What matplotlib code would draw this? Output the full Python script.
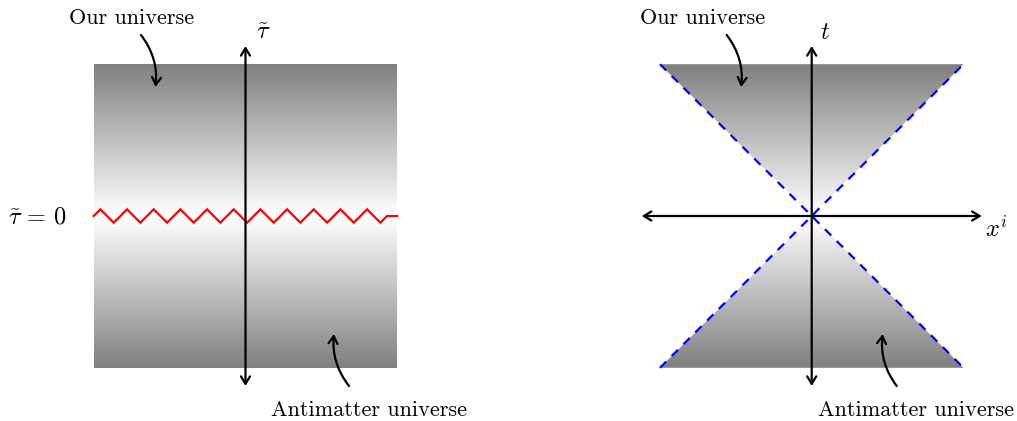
import numpy as np
import matplotlib
matplotlib.use("Agg")
import matplotlib.pyplot as plt
from matplotlib.patches import Polygon
from matplotlib.colors import LinearSegmentedColormap

plt.rcParams['mathtext.fontset'] = 'cm'

# everything in cm, origin at the centre of the left diagram
half = 2.0           # half size of shaded regions
axis_len = 2.24      # half length of the axes
right_x0 = 7.46      # centre of the right diagram

rect_corners = [(-half, -half), (half, -half), (half, half), (-half, half)]
cone_corners = [(-half, half), (half, half), (0, 0), (half, -half), (-half, -half), (0, 0)]
light_cone_1 = [(-half, half), (half, -half)]
light_cone_2 = [(-half, -half), (half, half)]

# text labels: (x, y, text)
left_labels = [(-1.495, 2.61, 'Our universe'),
               (1.627, -2.556, 'Antimatter universe'),
               (0.23, 2.42, r'$\tilde{\tau}$'),
               (-2.75, -0.01, r'$\tilde{\tau}\,=\,0$')]
right_labels = [(-1.436, 2.61, 'Our universe'),
                (1.37, -2.556, 'Antimatter universe'),
                (0.17, 2.42, r'$t$'),
                (2.43, -0.18, r'$x^i$')]

# curved pointer arrows: (tail, head)
left_pointers = [((-1.377, 2.385), (-1.186, 1.70)),
                 ((1.364, -2.240), (1.166, -1.555))]
right_pointers = [((-1.12, 2.385), (-0.93, 1.70)),
                  ((1.12, -2.24), (0.935, -1.555))]

# zigzag decoration (tikz default: 10pt segment, 2.5pt amplitude)
zz_period = 0.3514
zz_amp = 0.0879
zz_count = 11

px_per_cm = 75.9
fig = plt.figure(figsize=(10.17, 4.21), dpi=100)
ax = fig.add_axes([0, 0, 1, 1])
ax.set_xlim(-245.5 / px_per_cm, (1017 - 245.5) / px_per_cm)
ax.set_ylim(-(421 - 216) / px_per_cm, 216 / px_per_cm)
ax.axis('off')

shade = LinearSegmentedColormap.from_list('shade', ['#808080', '#ffffff'])
yy = np.linspace(-half, half, 400)
grad = (1 - np.abs(yy) / half).reshape(-1, 1)

LW = 1.6
HEAD = 'head_length=0.45,head_width=0.27'


def shaded(corners, x0):
    pts = [(x + x0, y) for x, y in corners]
    poly = Polygon(pts, closed=True, facecolor='none', edgecolor='none')
    ax.add_patch(poly)
    im = ax.imshow(grad, cmap=shade, vmin=0, vmax=1, origin='lower',
                   extent=[x0 - half, x0 + half, -half, half],
                   interpolation='bilinear', aspect='auto', zorder=1)
    im.set_clip_path(poly)


def axis_arrow(p0, p1):
    ax.annotate('', xy=p1, xytext=p0,
                arrowprops=dict(arrowstyle='<->,' + HEAD,
                                lw=LW, color='black', shrinkA=0, shrinkB=0,
                                mutation_scale=12), zorder=4)


def pointer(tail, head, x0):
    ax.annotate('', xy=(head[0] + x0, head[1]), xytext=(tail[0] + x0, tail[1]),
                arrowprops=dict(arrowstyle='->,' + HEAD,
                                connectionstyle='arc3,rad=-0.2',
                                lw=LW, color='black', shrinkA=0, shrinkB=0,
                                mutation_scale=12), zorder=5)


def labels(items, x0):
    for x, y, s in items:
        if s.startswith('$'):
            ax.text(x + x0, y, s, ha='center', va='center', fontsize=17.5, zorder=6)
        else:
            ax.text(x + x0, y, s, ha='center', va='center', fontsize=16,
                    family='cmr10', zorder=6)


# left diagram
shaded(rect_corners, 0)
zx = [-half]
zy = [0]
for k in range(zz_count):
    zx += [-half + (k + 0.25) * zz_period, -half + (k + 0.75) * zz_period]
    zy += [zz_amp, -zz_amp]
zx += [-half + zz_count * zz_period, half]
zy += [0, 0]
ax.plot(zx, zy, color='red', lw=LW, zorder=3, solid_joinstyle='miter')
axis_arrow((0, -axis_len), (0, axis_len))
for tail, head in left_pointers:
    pointer(tail, head, 0)
labels(left_labels, 0)

# right diagram
shaded(cone_corners, right_x0)
for seg in (light_cone_1, light_cone_2):
    ax.plot([p[0] + right_x0 for p in seg], [p[1] for p in seg],
            color='blue', lw=LW, dashes=(4, 3.5), zorder=3)
axis_arrow((right_x0, -axis_len), (right_x0, axis_len))
axis_arrow((right_x0 - axis_len, 0), (right_x0 + axis_len, 0))
for tail, head in right_pointers:
    pointer(tail, head, right_x0)
labels(right_labels, right_x0)

fig.savefig('out.png', dpi=100)
